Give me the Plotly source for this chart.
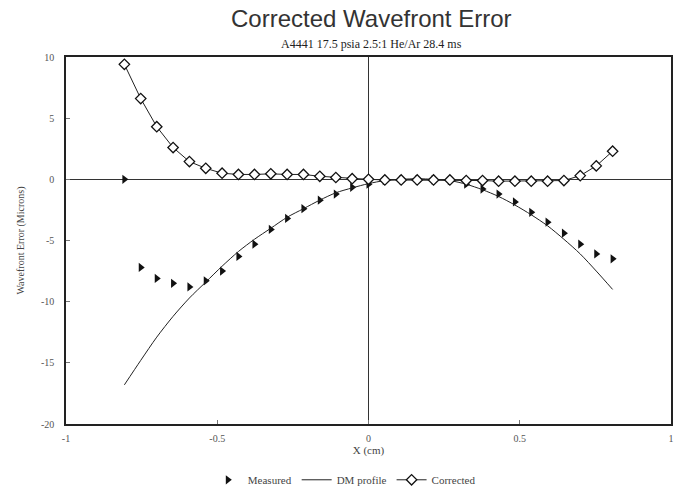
import plotly.graph_objects as go

x_cm = [-0.807, -0.753, -0.700, -0.646, -0.592, -0.538, -0.484, -0.430, -0.377, -0.323,
        -0.269, -0.215, -0.161, -0.108, -0.054, 0.000, 0.054, 0.108, 0.161, 0.215,
        0.269, 0.323, 0.377, 0.430, 0.484, 0.538, 0.592, 0.646, 0.700, 0.753, 0.807]

measured = [0.0, -7.2, -8.1, -8.5, -8.8, -8.3, -7.5, -6.3, -5.3, -4.1,
            -3.2, -2.4, -1.7, -1.2, -0.65, -0.4, -0.1, -0.05, -0.05, -0.05,
            -0.1, -0.4, -0.8, -1.2, -1.85, -2.7, -3.5, -4.4, -5.3, -6.1, -6.5]

dm_profile = [-16.8, -14.8, -12.9, -11.2, -9.7, -8.4, -7.1, -5.9, -4.9, -4.0,
              -3.1, -2.4, -1.7, -1.1, -0.7, -0.35, -0.1, 0.0, 0.05, 0.0,
              -0.1, -0.4, -0.85, -1.4, -2.1, -2.9, -3.8, -4.9, -6.1, -7.5, -9.0]

corrected = [9.4, 6.6, 4.3, 2.6, 1.45, 0.9, 0.5, 0.4, 0.4, 0.45,
             0.4, 0.4, 0.25, 0.15, 0.05, 0.0, -0.05, -0.05, -0.05, -0.05,
             -0.05, -0.1, -0.1, -0.15, -0.15, -0.15, -0.15, -0.1, 0.3, 1.1, 2.3]

x_ticks = [-1, -0.5, 0, 0.5, 1]
x_tick_labels = ["-1", "-0.5", "0", "0.5", "1"]
y_ticks = [10, 5, 0, -5, -10, -15, -20]
y_tick_labels = ["10", "5", "0", "-5", "-10", "-15", "-20"]

title_text = "Corrected Wavefront Error"
subtitle_text = "A4441 17.5 psia 2.5:1 He/Ar 28.4 ms"

serif = "Liberation Serif, DejaVu Serif, serif"
sans = "Liberation Sans, Arial, sans-serif"

fig = go.Figure()
fig.add_trace(go.Scatter(
    x=x_cm, y=measured, mode="markers", name="Measured",
    marker=dict(symbol="triangle-right", size=8, color="#111111"),
))
fig.add_trace(go.Scatter(
    x=x_cm, y=dm_profile, mode="lines", name="DM profile",
    line=dict(color="#222222", width=1, shape="spline", smoothing=0.8),
))
fig.add_trace(go.Scatter(
    x=x_cm, y=corrected, mode="lines+markers", name="Corrected",
    line=dict(color="#222222", width=1),
    marker=dict(symbol="diamond", size=8, color="white",
                line=dict(color="#111111", width=1.3)),
))

fig.update_layout(
    width=679, height=499,
    margin=dict(l=66, r=5, t=57, b=66),
    paper_bgcolor="white", plot_bgcolor="white",
    showlegend=True,
    legend=dict(orientation="h", x=0.46, xanchor="center", y=-0.152, yanchor="middle",
                font=dict(family=serif, size=11, color="#444444"),
                bgcolor="rgba(0,0,0,0)", itemwidth=30),
    font=dict(family=serif, color="#555555"),
    annotations=[
        dict(text=title_text, xref="paper", yref="paper", x=0.505, y=1, yshift=39,
             xanchor="center", yanchor="middle", showarrow=False,
             font=dict(family=sans, size=24, color="#333333")),
        dict(text=subtitle_text, xref="paper", yref="paper", x=0.505, y=1, yshift=13,
             xanchor="center", yanchor="middle", showarrow=False,
             font=dict(family=serif, size=12, color="#222222")),
    ],
)
fig.update_xaxes(
    range=[-1, 1], tickvals=x_ticks, ticktext=x_tick_labels,
    showgrid=False, zeroline=True, zerolinecolor="#333333", zerolinewidth=1,
    showline=True, mirror=True, linecolor="#222222", linewidth=1.5,
    ticks="inside", ticklen=4, tickcolor="#777777",
    ticklabelstandoff=4,
    tickfont=dict(family=serif, size=10, color="#555555"),
    title=dict(text="X (cm)", font=dict(family=serif, size=11, color="#444444"), standoff=4),
)
fig.update_yaxes(
    range=[-20, 10], tickvals=y_ticks, ticktext=y_tick_labels,
    showgrid=False, zeroline=True, zerolinecolor="#333333", zerolinewidth=1,
    showline=True, mirror=True, linecolor="#222222", linewidth=1.5,
    ticks="inside", ticklen=4, tickcolor="#777777",
    ticklabelstandoff=8,
    tickfont=dict(family=serif, size=10, color="#555555"),
    title=dict(text="Wavefront Error (Microns)", font=dict(family=serif, size=10, color="#444444"), standoff=14),
)

fig.write_html("out.html")
